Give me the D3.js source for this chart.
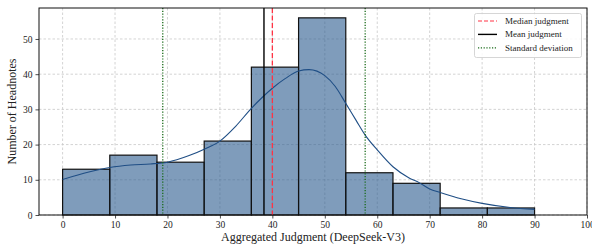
<!DOCTYPE html>
<html><head><meta charset="utf-8">
<script src="https://cdn.jsdelivr.net/npm/d3@7"></script>
<style>body{margin:0;background:#fff}svg{display:block;font-family:"Liberation Serif","DejaVu Serif",serif}</style>
</head><body><svg id="c" width="592" height="248"></svg>
<script>
const binEdges = [0,9,18,27,36,45,54,63,72,81,90];
const counts = [13,17,15,21,42,56,12,9,2,2];
const kdeX = [0,5,9,13,16.7,20,24,27,30,33,36,38,40,42.5,45,47,50,52,54,56,57.7,60,63,66,68,70,72,76,80,85,90];
const kdeY = [10.1,12.2,13.5,14.2,14.5,15.0,16.8,18.7,21.0,25.2,30.3,33.3,36.0,38.8,40.9,41.3,39.6,36.5,31.7,26.8,22.7,18.5,13.7,10.6,9.2,7.4,6.4,4.6,3.3,2.2,1.6];
const xTicks = [0,10,20,30,40,50,60,70,80,90,100];
const yTicks = [0,10,20,30,40,50];
const meanVal = 38.4, medianVal = 40.0, stdVal = 19.3;
const legendLabels = ["Median judgment","Mean judgment","Standard deviation"];

const svg = d3.select("#c");
const L=39, R=587, T=8, B=215;
const x = d3.scaleLinear().domain([-4.5,100]).range([L,R]);
const y = d3.scaleLinear().domain([0,58.8]).range([B,T]);

// grid
const g = svg.append("g");
g.selectAll(".gx").data(xTicks).join("line").attr("x1",d=>x(d)).attr("x2",d=>x(d)).attr("y1",T).attr("y2",B)
 .attr("stroke","#c8c8c8").attr("stroke-width",0.8).attr("stroke-dasharray","2.5,2");
g.selectAll(".gy").data(yTicks).join("line").attr("y1",d=>y(d)).attr("y2",d=>y(d)).attr("x1",L).attr("x2",R)
 .attr("stroke","#c8c8c8").attr("stroke-width",0.8).attr("stroke-dasharray","2.5,2");

// bars
const bins = counts.map((c,i)=>({x0:binEdges[i],x1:binEdges[i+1],c}));
svg.append("g").selectAll("rect").data(bins).join("rect")
 .attr("x",d=>x(d.x0)).attr("width",d=>x(d.x1)-x(d.x0))
 .attr("y",d=>y(d.c)).attr("height",d=>y(0)-y(d.c))
 .attr("fill","#2a5a8e").attr("fill-opacity",0.6).attr("stroke","#111").attr("stroke-width",1.2);

// kde
svg.append("path").datum(kdeX.map((v,i)=>[v,kdeY[i]]))
 .attr("d",d3.line().x(d=>x(d[0])).y(d=>y(d[1])).curve(d3.curveMonotoneX))
 .attr("fill","none").attr("stroke","#1f4e85").attr("stroke-width",1.1);

// vertical lines
function vline(v,color,dash,w){svg.append("line").attr("x1",x(v)).attr("x2",x(v)).attr("y1",T).attr("y2",B)
 .attr("stroke",color).attr("stroke-width",w).attr("stroke-dasharray",dash);}
vline(medianVal,"#ff3344","5,2.5",1.3);
vline(meanVal,"#000","none",1.4);
vline(meanVal-stdVal,"#1a6b1a","1.2,1.6",1.3);
vline(meanVal+stdVal,"#1a6b1a","1.2,1.6",1.3);

// axes
const xa = svg.append("g").attr("transform",`translate(0,${B})`)
 .call(d3.axisBottom(x).tickValues(xTicks).tickSize(3.5).tickPadding(3));
const ya = svg.append("g").attr("transform",`translate(${L},0)`)
 .call(d3.axisLeft(y).tickValues(yTicks).tickSize(3.5).tickPadding(3));
[xa,ya].forEach(a=>{a.select(".domain").remove();a.selectAll("text").attr("font-family","Liberation Serif").attr("font-size",9.5).attr("fill","#222");
 a.selectAll("line").attr("stroke","#222").attr("stroke-width",0.8);});
svg.append("rect").attr("x",L).attr("y",T).attr("width",R-L).attr("height",B-T).attr("fill","none").attr("stroke","#111").attr("stroke-width",1);

// labels
svg.append("text").attr("x",(L+R)/2).attr("y",241).attr("text-anchor","middle").attr("font-size",12).attr("fill","#222").text("Aggregated Judgment (DeepSeek-V3)");
svg.append("text").attr("transform",`translate(16,${(T+B)/2}) rotate(-90)`).attr("text-anchor","middle").attr("font-size",12).attr("fill","#222").text("Number of Headnotes");

// legend
const lg = svg.append("g");
lg.append("rect").attr("x",474.5).attr("y",13.5).attr("width",107).attr("height",44).attr("rx",2)
 .attr("fill","#fff").attr("fill-opacity",0.85).attr("stroke","#ccc").attr("stroke-width",0.8);
const styles=[["#ff3344","4,2",1.2],["#000","none",1.4],["#1a6b1a","1.2,1.6",1.2]];
legendLabels.forEach((t,i)=>{const yy=21+i*13.4;
 lg.append("line").attr("x1",478).attr("x2",497).attr("y1",yy).attr("y2",yy).attr("stroke",styles[i][0]).attr("stroke-dasharray",styles[i][1]).attr("stroke-width",styles[i][2]);
 lg.append("text").attr("x",505).attr("y",yy+3).attr("font-size",9).attr("fill","#222").text(t);});
</script></body></html>
